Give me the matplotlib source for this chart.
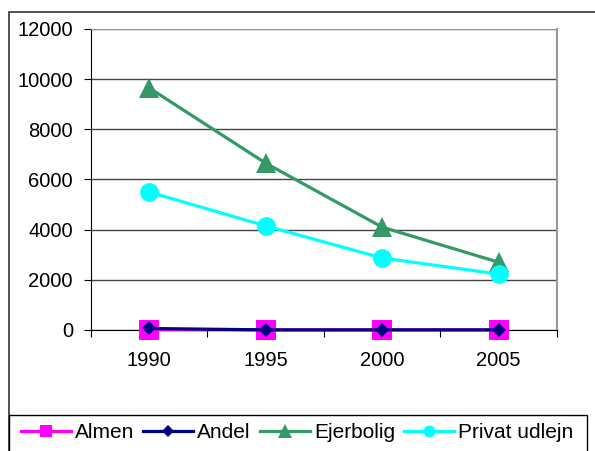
import matplotlib.pyplot as plt
from matplotlib.lines import Line2D
from matplotlib.patches import Rectangle

plt.rcParams['font.family'] = ['Liberation Sans', 'DejaVu Sans']

years = ['1990', '1995', '2000', '2005']
almen = [10, 5, 5, 5]
andel = [60, 5, 5, 5]
ejerbolig = [9650, 6650, 4100, 2700]
privat = [5500, 4150, 2870, 2230]

series = ['Almen', 'Andel', 'Ejerbolig', 'Privat udlejn']
colors = ['#FF00FF', '#000080', '#339966', '#00FFFF']
markers = ['s', 'D', '^', 'o']
msizes = [13.7, 6.8, 15, 13.5]
leg_msizes = [9.0, 6.2, 9.5, 8.6]

fig = plt.figure(figsize=(5.95, 4.51), dpi=100)
ax = fig.add_axes([0.1529, 0.2683, 0.7832, 0.6674])

x = list(range(len(years)))
for vals, c, m, ms, name in zip([almen, andel, ejerbolig, privat], colors, markers, msizes, series):
	ax.plot(x, vals, color=c, lw=2.3, marker=m, markersize=ms,
		markeredgewidth=0, label=name, clip_on=False, zorder=3)

ax.set_xlim(-0.5, 3.5)
ax.set_ylim(0, 12000)
ax.set_yticks(range(0, 12001, 2000))
ax.yaxis.grid(True, color='#444444', lw=1.0)
ax.set_axisbelow(True)

# category labels centred, ticks on the boundaries
ax.set_xticks([-0.5, 0.5, 1.5, 2.5, 3.5])
ax.set_xticklabels([])
ax.set_xticks(x, minor=True)
ax.set_xticklabels(years, minor=True)
ax.tick_params(axis='x', which='minor', length=0, pad=15, labelsize=14.5)
ax.tick_params(axis='x', which='major', length=5, direction='out', color='black')
ax.tick_params(axis='y', length=5, direction='out', pad=8, labelsize=14.5)

ax.spines['left'].set_color('black')
ax.spines['bottom'].set_color('black')
ax.spines['top'].set_color('#999999')
ax.spines['right'].set_color('#999999')
ax.spines['right'].set_linewidth(1.5)

# outer chart border and legend box
fig.add_artist(Rectangle((9 / 595, -0.1), 1.2, 1.1 - 12 / 451,
	transform=fig.transFigure, fill=False, ec='#333333', lw=1.2))
fig.add_artist(Rectangle((9 / 595, -0.1), (587 - 9) / 595, 0.1 + (451 - 415) / 451,
	transform=fig.transFigure, fill=False, ec='black', lw=1.0))

handles = [Line2D([], [], color=c, lw=2.3, marker=m, markersize=s, markeredgewidth=0)
	for c, m, s in zip(colors, markers, leg_msizes)]
fig.legend(handles, series, loc='center', bbox_to_anchor=(297 / 595, 1 - 433 / 451),
	ncol=4, frameon=False, fontsize=15, handlelength=2.4, handletextpad=0.2,
	columnspacing=0.42, borderaxespad=0, borderpad=0)

fig.savefig('out.png', dpi=100)
